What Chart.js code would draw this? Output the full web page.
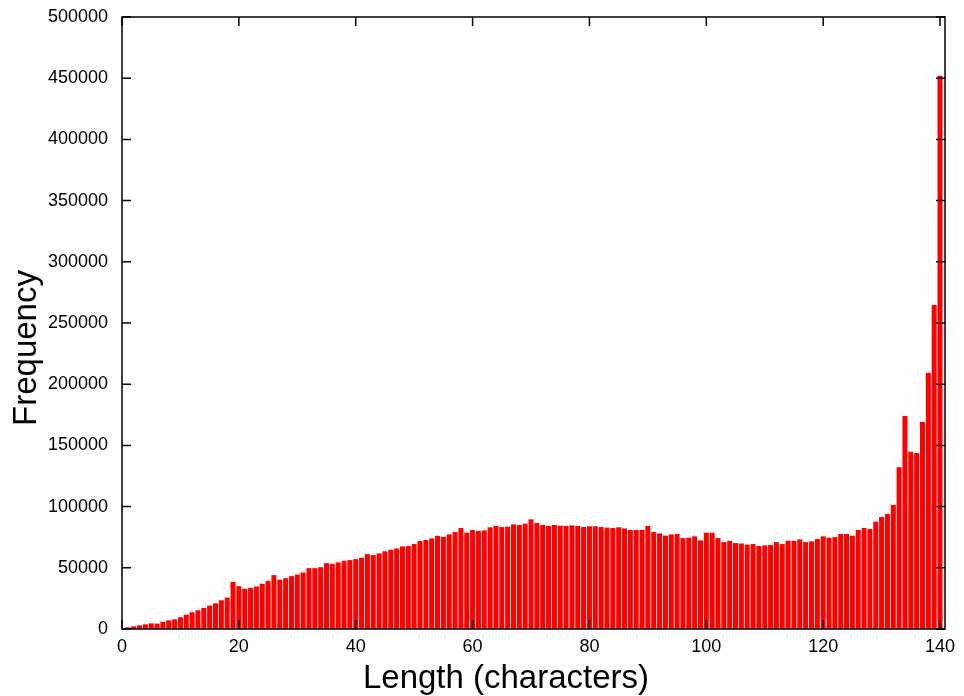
<!DOCTYPE html>
<html lang="en">
<head>
    <meta charset="UTF-8">
    <title>Length histogram</title>
    <script src="https://cdn.jsdelivr.net/npm/chart.js"></script>
    <style>
        body {
            margin: 0;
            background: white;
        }
        #wrap {
            width: 964px;
            height: 696px;
        }
    </style>
</head>
<body>
    <div id="wrap">
        <canvas id="histChart" width="964" height="696"></canvas>
    </div>

    <script>
        // Message length in characters (1..140)
        var lengths = [
            1, 2, 3, 4, 5, 6, 7, 8, 9, 10, 11, 12, 13, 14, 15, 16, 17, 18, 19, 20,
            21, 22, 23, 24, 25, 26, 27, 28, 29, 30, 31, 32, 33, 34, 35, 36, 37, 38, 39, 40,
            41, 42, 43, 44, 45, 46, 47, 48, 49, 50, 51, 52, 53, 54, 55, 56, 57, 58, 59, 60,
            61, 62, 63, 64, 65, 66, 67, 68, 69, 70, 71, 72, 73, 74, 75, 76, 77, 78, 79, 80,
            81, 82, 83, 84, 85, 86, 87, 88, 89, 90, 91, 92, 93, 94, 95, 96, 97, 98, 99, 100,
            101, 102, 103, 104, 105, 106, 107, 108, 109, 110, 111, 112, 113, 114, 115, 116, 117, 118, 119, 120,
            121, 122, 123, 124, 125, 126, 127, 128, 129, 130, 131, 132, 133, 134, 135, 136, 137, 138, 139, 140
        ];

        // Frequency per length
        var frequency = [
            1400, 2200, 3000, 3800, 4600, 4400, 6000, 7100, 7900, 9600,
            11700, 13700, 15300, 17200, 19100, 21000, 23500, 25700, 38500, 35000,
            32800, 33600, 34700, 36900, 39300, 44000, 40200, 41500, 43200, 44500,
            46200, 49700, 49700, 50500, 53800, 53300, 54400, 55700, 56300, 57100,
            58200, 61200, 60400, 61800, 63500, 64800, 65800, 67500, 67800, 69400,
            71900, 72700, 74000, 76000, 75400, 77300, 79200, 82500, 78700, 80900,
            80100, 80600, 83100, 84200, 83300, 83600, 85500, 85000, 86100, 89600,
            86600, 85000, 84200, 85000, 84400, 84200, 84700, 84200, 83300, 83900,
            83900, 83300, 82800, 82500, 83100, 82200, 80900, 80900, 80900, 84200,
            79200, 78100, 76200, 77300, 77600, 74300, 74600, 75700, 72400, 78700,
            78700, 74300, 71000, 72100, 70200, 69900, 68900, 69400, 67800, 68300,
            68600, 71000, 69400, 72100, 72100, 73200, 71000, 71600, 73500, 75700,
            74600, 75100, 77600, 77600, 76200, 80900, 82500, 81700, 87700, 91500,
            94000, 101400, 132100, 174000, 144900, 143800, 169100, 209400, 264700, 452000
        ];

        // Tick labels
        var xTicks = [0, 20, 40, 60, 80, 100, 120, 140];
        var yTicks = [0, 50000, 100000, 150000, 200000, 250000, 300000, 350000, 400000, 450000, 500000];

        var xTitle = 'Length (characters)';
        var yTitle = 'Frequency';

        var points = lengths.map(function (len, i) {
            return { x: len, y: frequency[i] };
        });

        // gnuplot-like frame with inward ticks on all four sides
        var framePlugin = {
            id: 'frame',
            afterDatasetsDraw: function (chart) {
                var ctx = chart.ctx;
                var a = chart.chartArea;
                var xs = chart.scales.x;
                var ys = chart.scales.y;
                ctx.save();
                ctx.strokeStyle = '#000';
                ctx.lineWidth = 1.5;
                ctx.strokeRect(a.left, a.top, a.right - a.left, a.bottom - a.top);
                ctx.beginPath();
                xs.ticks.forEach(function (t) {
                    var px = xs.getPixelForValue(t.value);
                    ctx.moveTo(px, a.bottom);
                    ctx.lineTo(px, a.bottom - 9);
                    ctx.moveTo(px, a.top);
                    ctx.lineTo(px, a.top + 9);
                });
                ys.ticks.forEach(function (t) {
                    var py = ys.getPixelForValue(t.value);
                    ctx.moveTo(a.left, py);
                    ctx.lineTo(a.left + 9, py);
                    ctx.moveTo(a.right, py);
                    ctx.lineTo(a.right - 9, py);
                });
                ctx.stroke();
                ctx.restore();
            }
        };

        // axis titles placed like gnuplot does (y label centred on the canvas height)
        var axisTitlesPlugin = {
            id: 'axisTitles',
            afterDraw: function (chart) {
                var ctx = chart.ctx;
                ctx.save();
                ctx.fillStyle = '#000';
                ctx.font = '33px "Liberation Sans"';
                ctx.textAlign = 'center';
                ctx.textBaseline = 'alphabetic';
                ctx.fillText(xTitle, 506, 688);
                ctx.translate(36, chart.height / 2);
                ctx.rotate(-Math.PI / 2);
                ctx.fillText(yTitle, 0, 0);
                ctx.restore();
            }
        };

        // let the layout padding alone decide where the plot box sits
        function noOverhang(scale) {
            scale.paddingTop = 0;
            scale.paddingBottom = 0;
            scale.paddingLeft = 0;
            scale.paddingRight = 0;
        }

        var ctx = document.getElementById('histChart').getContext('2d');
        var histChart = new Chart(ctx, {
            type: 'bar',
            data: {
                datasets: [{
                    label: 'Frequency',
                    data: points,
                    backgroundColor: '#ff0000',
                    borderWidth: 0,
                    categoryPercentage: 1.0,
                    barPercentage: 0.86
                }]
            },
            options: {
                responsive: false,
                animation: false,
                layout: {
                    padding: { top: 17, right: 19, left: 0, bottom: 0 }
                },
                plugins: {
                    legend: { display: false },
                    tooltip: { enabled: false }
                },
                scales: {
                    x: {
                        type: 'linear',
                        offset: false,
                        min: 0,
                        max: 140.85,
                        grid: { display: false, drawTicks: false },
                        border: { display: false },
                        afterBuildTicks: function (scale) {
                            scale.ticks = xTicks.map(function (v) { return { value: v }; });
                        },
                        afterFit: function (scale) {
                            scale.height = 67;
                            noOverhang(scale);
                        },
                        ticks: {
                            padding: 7,
                            color: '#000',
                            maxRotation: 0,
                            font: { family: 'Liberation Sans', size: 18 },
                            callback: function (v) { return String(v); }
                        }
                    },
                    y: {
                        min: 0,
                        max: 500000,
                        grid: { display: false, drawTicks: false },
                        border: { display: false },
                        afterBuildTicks: function (scale) {
                            scale.ticks = yTicks.map(function (v) { return { value: v }; });
                        },
                        afterFit: function (scale) {
                            scale.width = 122;
                            noOverhang(scale);
                        },
                        ticks: {
                            padding: 14,
                            color: '#000',
                            font: { family: 'Liberation Sans', size: 18 },
                            callback: function (v) { return String(v); }
                        }
                    }
                }
            },
            plugins: [framePlugin, axisTitlesPlugin]
        });
    </script>
</body>
</html>
